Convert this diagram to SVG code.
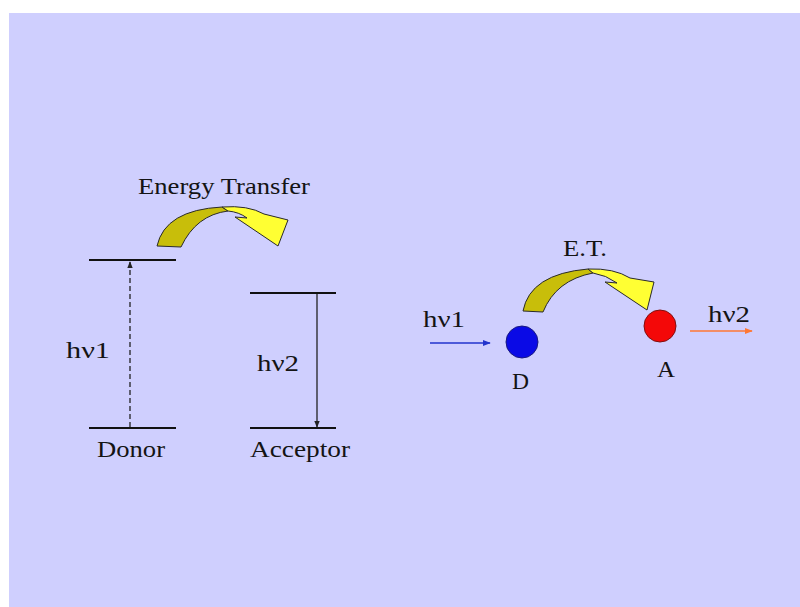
<svg xmlns="http://www.w3.org/2000/svg" width="800" height="607" viewBox="0 0 800 607">
<style>
text{font-family:"Liberation Serif","Times New Roman",serif;font-size:24px;fill:#141414}
.lvl{stroke:#111;stroke-width:2.2}
.dark{fill:#C8BE0A;stroke:#2a2a2a;stroke-width:1}
.bright{fill:#FFFF33;stroke:#2a2a2a;stroke-width:1}
</style>
<defs>
<marker id="ah" viewBox="0 0 10 10" refX="9" refY="5" markerWidth="7" markerHeight="7" markerUnits="userSpaceOnUse" orient="auto"><path d="M0,1 L10,5 L0,9 z" fill="#222"/></marker>
<marker id="ahb" viewBox="0 0 10 10" refX="9" refY="5" markerWidth="8" markerHeight="8" markerUnits="userSpaceOnUse" orient="auto"><path d="M0,1 L10,5 L0,9 z" fill="#2233CC"/></marker>
<marker id="aho" viewBox="0 0 10 10" refX="9" refY="5" markerWidth="8" markerHeight="8" markerUnits="userSpaceOnUse" orient="auto"><path d="M0,1 L10,5 L0,9 z" fill="#FF7733"/></marker>
</defs>
<rect x="9" y="13" width="791" height="594" fill="#CFCFFE"/>

<g id="donor">
<line class="lvl" x1="89" y1="260" x2="176" y2="260"/>
<line class="lvl" x1="89" y1="428" x2="176" y2="428"/>
<text x="97" y="457" textLength="68" lengthAdjust="spacingAndGlyphs">Donor</text>
</g>
<g id="acceptor">
<line class="lvl" x1="250" y1="293" x2="336" y2="293"/>
<line class="lvl" x1="250" y1="428" x2="336" y2="428"/>
<text x="250" y="457" textLength="100" lengthAdjust="spacingAndGlyphs">Acceptor</text>
</g>
<g id="et-left">
<path class="dark" d="M157,246 Q165,210 222,207 L228,211 Q196,215 181,247 Z"/>
<path class="bright" d="M222,207 Q248,205 264,214 L288,220 L278,246 L235,217 L247,218 Q239,212 228,211 Z"/>
<text x="138" y="194" textLength="172" lengthAdjust="spacingAndGlyphs">Energy Transfer</text>
</g>
<g id="D">
<circle cx="522" cy="342" r="16" fill="#0A0AE6" stroke="#1a1a80" stroke-width="1"/>
<text x="512" y="389" textLength="17" lengthAdjust="spacingAndGlyphs">D</text>
</g>
<g id="A">
<circle cx="660" cy="326" r="16" fill="#F40808" stroke="#801010" stroke-width="1"/>
<text x="657" y="377" textLength="18" lengthAdjust="spacingAndGlyphs">A</text>
</g>
<g id="et-right">
<path class="dark" d="M523,311 Q530,274 588,269 L593,273 Q556,280 543,312 Z"/>
<path class="bright" d="M588,269 Q614,268 630,278 L654,282 L647,310 L605,282 L617,283 Q606,275 593,273 Z"/>
<text x="563" y="256" textLength="44" lengthAdjust="spacingAndGlyphs">E.T.</text>
</g>

<g id="connectors">
<line x1="130" y1="427" x2="130" y2="262" stroke="#222" stroke-width="1.3" stroke-dasharray="5,3" marker-end="url(#ah)"/>
<line x1="317" y1="294" x2="317" y2="427" stroke="#222" stroke-width="1.3" marker-end="url(#ah)"/>
<line x1="430" y1="343" x2="490" y2="343" stroke="#2233CC" stroke-width="1.3" marker-end="url(#ahb)"/>
<line x1="690" y1="331" x2="752" y2="331" stroke="#FF7733" stroke-width="1.3" marker-end="url(#aho)"/>
</g>
<g id="labels">
<text x="66" y="358" textLength="44" lengthAdjust="spacingAndGlyphs">hν1</text>
<text x="257" y="371" textLength="42" lengthAdjust="spacingAndGlyphs">hν2</text>
<text x="423" y="327" textLength="42" lengthAdjust="spacingAndGlyphs">hν1</text>
<text x="708" y="322" textLength="42" lengthAdjust="spacingAndGlyphs">hν2</text>
</g>
</svg>
